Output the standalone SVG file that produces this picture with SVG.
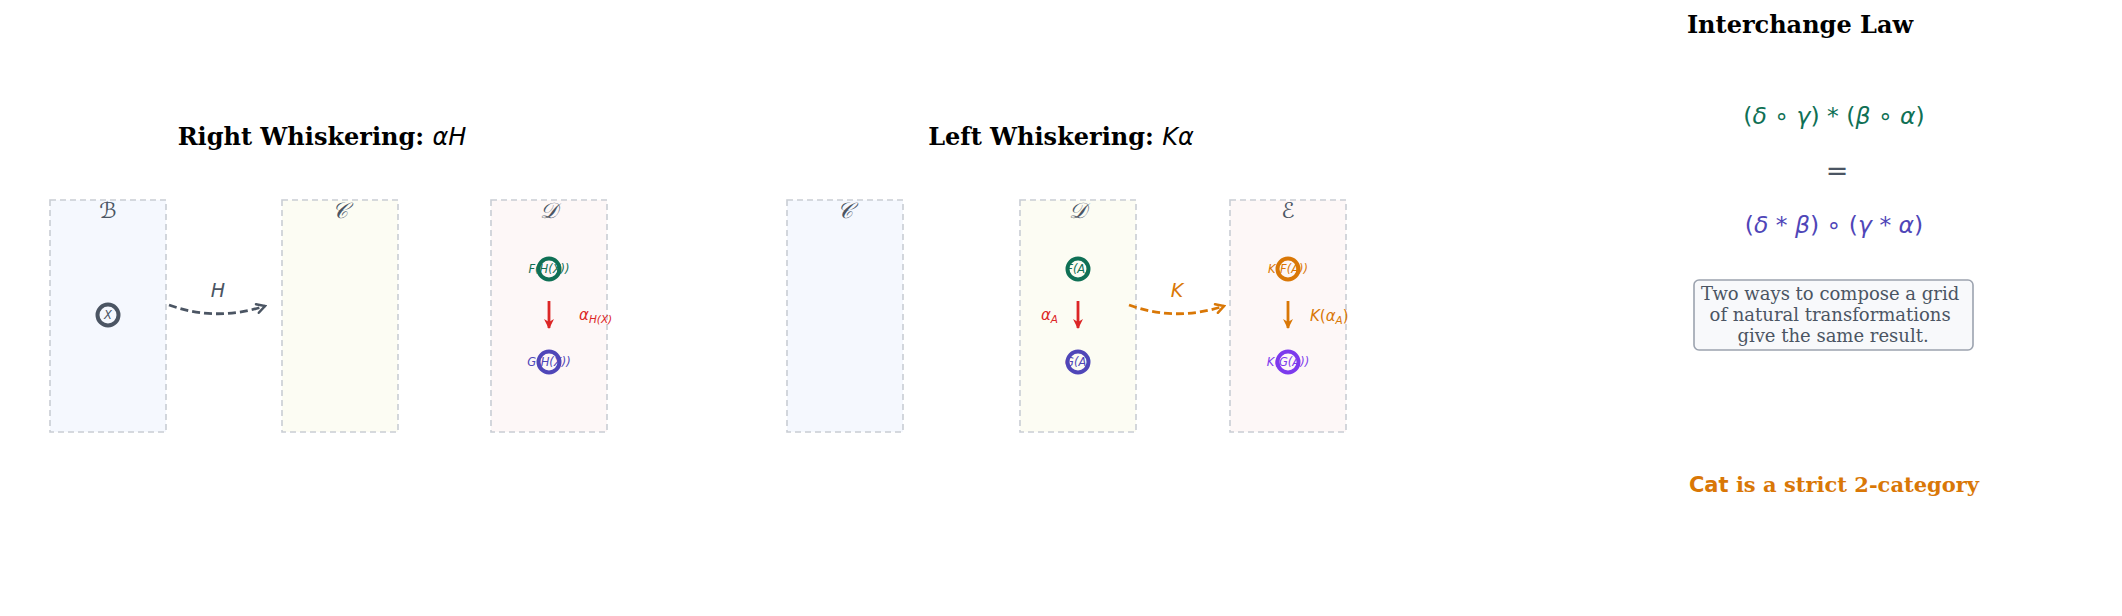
<svg xmlns="http://www.w3.org/2000/svg" width="2122" height="616" viewBox="0 0 2122 616">
<style>
.title{font-family:"DejaVu Serif","Liberation Serif",serif;font-weight:bold;font-size:24px;fill:#000}
.math{font-family:"DejaVu Sans","Liberation Sans",sans-serif;font-style:italic}
.cat{stroke:#c9cdd4;stroke-width:1.6;stroke-dasharray:6 4}
.b1{fill:#f5f8fe}.b2{fill:#fcfcf3}.b3{fill:#fdf7f7}
.catlbl{font-family:"DejaVu Sans","DejaVu Serif",sans-serif;font-style:italic;font-size:22px;fill:#4b5563;text-anchor:middle}
.node{stroke-width:4}
.nlbl{font-family:"DejaVu Sans",sans-serif;font-style:italic;font-size:11.5px;text-anchor:middle;dominant-baseline:central}
.up{font-style:normal}
</style>
<defs>
<marker id="tipRed" markerWidth="10" markerHeight="10" refX="9" refY="5" orient="auto" markerUnits="userSpaceOnUse">
<path d="M0,0 L10,5 L0,10 L3,5 Z" fill="#dc2626"/>
</marker>
<marker id="tipOr" markerWidth="10" markerHeight="10" refX="9" refY="5" orient="auto" markerUnits="userSpaceOnUse">
<path d="M0,0 L10,5 L0,10 L3,5 Z" fill="#d97706"/>
</marker>
<marker id="openGray" markerWidth="12" markerHeight="12" refX="10" refY="6" orient="auto" markerUnits="userSpaceOnUse">
<path d="M2,1.5 L10,6 L2,10.5" fill="none" stroke="#4b5563" stroke-width="2.5" stroke-linecap="round"/>
</marker>
<marker id="openOr" markerWidth="12" markerHeight="12" refX="10" refY="6" orient="auto" markerUnits="userSpaceOnUse">
<path d="M2,1.5 L10,6 L2,10.5" fill="none" stroke="#d97706" stroke-width="2.5" stroke-linecap="round"/>
</marker>
</defs>

<rect width="2122" height="616" fill="#fff"/>

<!-- Right whiskering -->
<text class="title" x="322" y="145" text-anchor="middle">Right Whiskering: <tspan class="math" font-weight="normal">αH</tspan></text>

<g id="rw-B">
<rect class="cat b1" x="50" y="200" width="116" height="232"/>
<text class="catlbl" x="108" y="218">ℬ</text>
</g>
<g id="rw-C">
<rect class="cat b2" x="282" y="200" width="116" height="232"/>
<text class="catlbl" x="340" y="218">𝒞</text>
</g>
<g id="rw-D">
<rect class="cat b3" x="491" y="200" width="116" height="232"/>
<text class="catlbl" x="549" y="218">𝒟</text>
</g>
<g id="rw-X">
<circle class="node" cx="108" cy="315" r="10.5" fill="#f5f8fe" stroke="#4b5563"/>
<text class="nlbl" x="108" y="315" fill="#4b5563" font-size="14">X</text>
</g>
<g id="rw-FHX">
<circle class="node" cx="549" cy="269" r="10.5" fill="#fdf7f7" stroke="#0f7055"/>
<text class="nlbl" x="549" y="269" fill="#0f7055">F(H(X))</text>
</g>
<g id="rw-GHX">
<circle class="node" cx="549" cy="362" r="10.5" fill="#fdf7f7" stroke="#4f46b8"/>
<text class="nlbl" x="549" y="362" fill="#4f46b8">G(H(X))</text>
</g>

<!-- Left whiskering -->
<text class="title" x="1061" y="145" text-anchor="middle">Left Whiskering: <tspan class="math" font-weight="normal">Kα</tspan></text>

<g id="lw-C">
<rect class="cat b1" x="787" y="200" width="116" height="232"/>
<text class="catlbl" x="845" y="218">𝒞</text>
</g>
<g id="lw-D">
<rect class="cat b2" x="1020" y="200" width="116" height="232"/>
<text class="catlbl" x="1078" y="218">𝒟</text>
</g>
<g id="lw-E">
<rect class="cat b3" x="1230" y="200" width="116" height="232"/>
<text class="catlbl" x="1288" y="218">ℰ</text>
</g>
<g id="lw-FA">
<circle class="node" cx="1078" cy="269" r="10.5" fill="#fcfcf3" stroke="#0f7055"/>
<text class="nlbl" x="1078" y="269" fill="#0f7055" font-size="13.5">F(A)</text>
</g>
<g id="lw-GA">
<circle class="node" cx="1078" cy="362" r="10.5" fill="#fcfcf3" stroke="#4f46b8"/>
<text class="nlbl" x="1078" y="362" fill="#4f46b8" font-size="13.5">G(A)</text>
</g>
<g id="lw-KFA">
<circle class="node" cx="1288" cy="269" r="10.5" fill="#fdf7f7" stroke="#d97706"/>
<text class="nlbl" x="1288" y="269" fill="#d97706">K(F(A))</text>
</g>
<g id="lw-KGA">
<circle class="node" cx="1288" cy="362" r="10.5" fill="#fdf7f7" stroke="#7c3aed"/>
<text class="nlbl" x="1288" y="362" fill="#7c3aed">K(G(A))</text>
</g>

<!-- connectors -->
<g id="connectors">
<path d="M169,305 Q216,322 265,306" fill="none" stroke="#4b5563" stroke-width="2.8" stroke-dasharray="8 4" marker-end="url(#openGray)"/>
<text class="math" x="218" y="297" font-size="19" fill="#4b5563" text-anchor="middle">H</text>

<line x1="549" y1="301" x2="549" y2="328" stroke="#dc2626" stroke-width="2.8" marker-end="url(#tipRed)"/>
<text class="math" x="579" y="320" font-size="15" fill="#dc2626">α<tspan font-size="10.5" dy="3">H(X)</tspan></text>

<line x1="1078" y1="301" x2="1078" y2="328" stroke="#dc2626" stroke-width="2.8" marker-end="url(#tipRed)"/>
<text class="math" x="1058" y="320" font-size="15" fill="#dc2626" text-anchor="end">α<tspan font-size="10.5" dy="3">A</tspan></text>

<path d="M1129,305 Q1176,322 1224,306" fill="none" stroke="#d97706" stroke-width="2.8" stroke-dasharray="8 4" marker-end="url(#openOr)"/>
<text class="math" x="1177" y="297" font-size="19" fill="#d97706" text-anchor="middle">K</text>

<line x1="1288" y1="301" x2="1288" y2="328" stroke="#d97706" stroke-width="2.8" marker-end="url(#tipOr)"/>
<text class="math" x="1310" y="321" font-size="15" fill="#d97706">K<tspan class="up">(</tspan>α<tspan font-size="10.5" dy="3">A</tspan><tspan class="up" dy="-3">)</tspan></text>
</g>

<!-- Interchange law -->
<g id="interchange">
<text class="title" x="1800" y="33" text-anchor="middle">Interchange Law</text>
<text class="math" x="1834" y="124" font-size="23.5" fill="#0f7055" text-anchor="middle"><tspan class="up">(</tspan>δ <tspan class="up">∘</tspan> γ<tspan class="up">) * (</tspan>β <tspan class="up">∘</tspan> α<tspan class="up">)</tspan></text>
<text x="1837" y="180" font-family="DejaVu Sans,sans-serif" font-size="27" fill="#4b5563" text-anchor="middle">=</text>
<text class="math" x="1834" y="233" font-size="23.5" fill="#4f46b8" text-anchor="middle"><tspan class="up">(</tspan>δ <tspan class="up">*</tspan> β<tspan class="up">) ∘ (</tspan>γ <tspan class="up">*</tspan> α<tspan class="up">)</tspan></text>
</g>
<g id="note">
<rect x="1694" y="280" width="279" height="70" rx="5" fill="#f8f9fb" stroke="#9ca3af" stroke-width="1.6"/>
<text font-family="DejaVu Serif,serif" font-size="18" fill="#4b5563" text-anchor="middle">
<tspan x="1833" y="300">Two ways to compose a grid</tspan>
<tspan x="1833" y="321">of natural transformations</tspan>
<tspan x="1833" y="342">give the same result.</tspan>
</text>
</g>
<g id="footer">
<text x="1834" y="492" font-family="DejaVu Serif,serif" font-weight="bold" font-size="21" fill="#d97706" text-anchor="middle"><tspan font-family="DejaVu Sans,sans-serif">Cat</tspan> is a strict 2-category</text>
</g>
</svg>
